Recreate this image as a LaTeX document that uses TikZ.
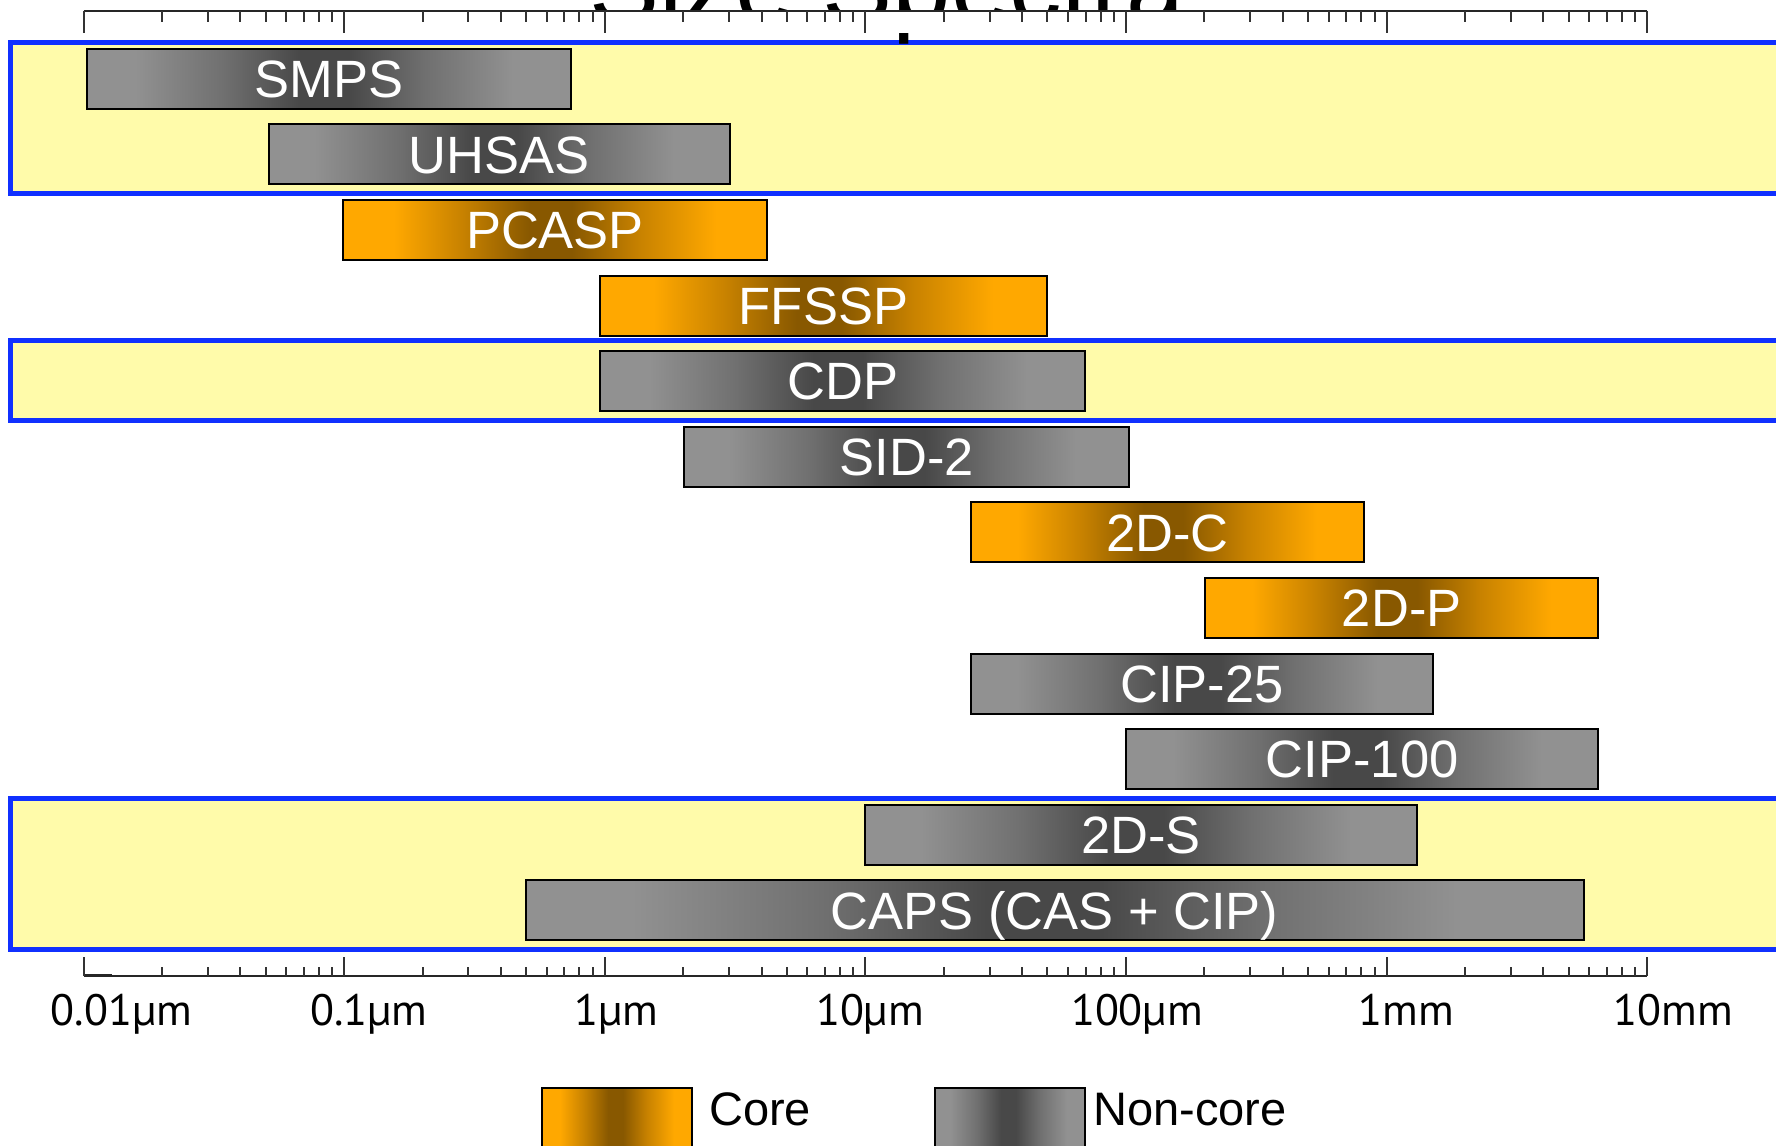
\documentclass[tikz,border=0pt]{standalone}
\usepackage{fontspec}
\setmainfont{Liberation Sans}
\newfontfamily\axisfont{PT Sans}

\definecolor{boxyellow}{RGB}{255,251,170}
\definecolor{boxblue}{RGB}{16,48,255}
\definecolor{lgray}{RGB}{145,145,145}
\definecolor{mgray}{RGB}{112,112,112}
\definecolor{dgray}{RGB}{72,72,72}
\definecolor{lorange}{RGB}{255,168,0}
\definecolor{morange}{RGB}{200,130,0}
\definecolor{dorange}{RGB}{136,88,0}

\pgfdeclarehorizontalshading{noncoreshade}{100bp}{color(0bp)=(lgray); color(25bp)=(lgray); color(30bp)=(lgray); color(39bp)=(mgray); color(47bp)=(dgray); color(52bp)=(dgray); color(60bp)=(mgray); color(69bp)=(lgray); color(75bp)=(lgray); color(100bp)=(lgray)}
\pgfdeclarehorizontalshading{coreshade}{100bp}{color(0bp)=(lorange); color(25bp)=(lorange); color(31bp)=(lorange); color(39bp)=(morange); color(47bp)=(dorange); color(52bp)=(dorange); color(60bp)=(morange); color(69bp)=(lorange); color(75bp)=(lorange); color(100bp)=(lorange)}

\tikzset{
  instrument/.style={rectangle, minimum height=60pt, inner sep=0pt, draw=black, line width=2pt,
    text=white, font=\fontsize{52.5}{52.5}\selectfont, text height=37.5pt, text depth=0pt},
  corebar/.style={instrument, shade, shading=coreshade},
  noncorebar/.style={instrument, shade, shading=noncoreshade},
  regionbox/.style={fill=boxyellow, draw=boxblue, line width=5pt},
  axisline/.style={draw=black!85, line width=2.2pt},
  tickline/.style={draw=black!80, line width=2pt},
  axislabel/.style={anchor=base, inner sep=0pt, font=\axisfont\fontsize{44}{44}\selectfont},
  legendtext/.style={anchor=base west, inner sep=0pt, font=\fontsize{47}{47}\selectfont},
  legendbox/.style={rectangle, anchor=north west, minimum width=150pt, minimum height=90pt, inner sep=0pt, draw=black, line width=2pt}
}

\newcommand\instbar[6]{%
  \pgfmathsetmacro\barW{#4-#3}%
  \pgfmathsetmacro\barX{(#3+#4)/2}%
  \node[#2, minimum width=\barW pt] (#1) at (\barX,#5) {#6};}

\begin{document}
\begin{tikzpicture}[x=1pt,y=-1pt]
\useasboundingbox (0,0) rectangle (1776,1145);
\clip (0,0) rectangle (1776,1145);
\fill[white] (0,0) rectangle (1776,1145);

% highlighted regions
\draw[regionbox] (10.8,42.5) rectangle (1800,193.5);
\draw[regionbox] (10.8,340.8) rectangle (1800,420.5);
\draw[regionbox] (10.8,798.5) rectangle (1800,949.5);

% instrument bars
\instbar{smps}{noncorebar}{87.2}{570.9}{78.7}{SMPS}
\instbar{uhsas}{noncorebar}{268.5}{729.5}{154.3}{UHSAS}
\instbar{pcasp}{corebar}{343.2}{766.8}{229.9}{PCASP}
\instbar{ffssp}{corebar}{600.3}{1046.6}{305.5}{FFSSP}
\instbar{cdp}{noncorebar}{600.3}{1085.1}{381.1}{CDP}
\instbar{sid}{noncorebar}{684.2}{1129.3}{456.7}{SID-2}
\instbar{twodc}{corebar}{970.7}{1363.8}{532.3}{2D-C}
\instbar{twodp}{corebar}{1205.2}{1598.3}{607.9}{2D-P}
\instbar{cipa}{noncorebar}{970.7}{1432.9}{683.5}{CIP-25}
\instbar{cipb}{noncorebar}{1125.9}{1598.3}{759.1}{CIP-100}
\instbar{twods}{noncorebar}{865.4}{1417.0}{834.7}{2D-S}
\instbar{caps}{noncorebar}{525.6}{1583.6}{910.3}{CAPS (CAS + CIP)}

% title (mostly cut off, as in the reference)
\node[anchor=base, inner sep=0pt, font=\fontsize{105}{105}\selectfont] (title) at (887,23) {Size Spectra};
\fill[white] (560,11.5) rectangle (1240,33);

% axes
\draw[axisline] (83.5,11) -- (1647.1,11);
\draw[axisline] (83.5,976) -- (1647.1,976);
\draw[axisline, line width=3.5pt] (83.5,975.5) -- (112,975.5);
\foreach \d in {0,...,6}{
  \pgfmathsetmacro\xx{83.5+260.6*\d}
  \draw[tickline] (\xx,11) -- (\xx,33);
  \draw[tickline] (\xx,976) -- (\xx,957);
}
\foreach \d in {0,...,5}{
  \foreach \k in {2,...,9}{
    \pgfmathsetmacro\xx{83.5+260.6*(\d+ln(\k)/2.302585)}
    \draw[tickline] (\xx,11) -- (\xx,22);
    \draw[tickline] (\xx,976) -- (\xx,967);
  }
}

% axis labels
\node[axislabel] (la) at (121.4,1025) {0.01µm};
\node[axislabel] (lb) at (368.8,1025) {0.1µm};
\node[axislabel] (lc) at (616.5,1025) {1µm};
\node[axislabel] (ld) at (870,1025) {10µm};
\node[axislabel] (le) at (1137,1025) {100µm};
\node[axislabel] (lf) at (1406.5,1025) {1mm};
\node[axislabel] (lg) at (1673.5,1025) {10mm};

% legend
\node[legendbox, shade, shading=coreshade] (corekey) at (541,1087) {};
\node[legendtext] (coretext) at (709,1125.5) {Core};
\node[legendbox, shade, shading=noncoreshade] (noncorekey) at (934,1087) {};
\node[legendtext] (noncoretext) at (1093,1125.5) {Non-core};
\end{tikzpicture}
\end{document}
